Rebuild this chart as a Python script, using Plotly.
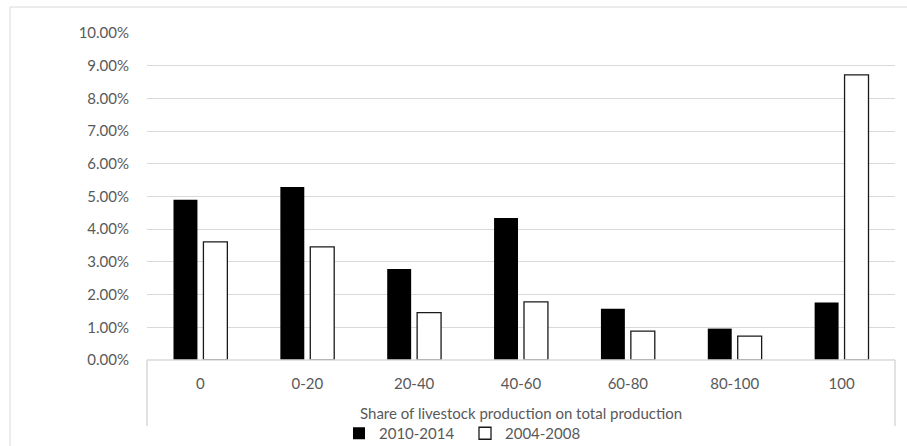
import plotly.graph_objects as go

# Share of livestock production on total production (bins, %)
categories = ["0", "0-20", "20-40", "40-60", "60-80", "80-100", "100"]
share_2010_2014 = [0.0490, 0.0529, 0.0278, 0.0434, 0.0157, 0.0096, 0.0176]
share_2004_2008 = [0.0361, 0.0346, 0.0145, 0.0178, 0.0088, 0.0073, 0.0872]
series_names = ["2010-2014", "2004-2008"]

W, H = 907, 446
ML, MR, MT, MB = 147, 12, 33, 86
FONT = "Lato, Open Sans, sans-serif"
GREY = "#595959"
LINE = "#d9d9d9"

fig = go.Figure()
fig.add_trace(go.Bar(
    x=categories, y=share_2010_2014, name=series_names[0],
    marker=dict(color="#000000", line=dict(color="#000000", width=0)),
))
fig.add_trace(go.Bar(
    x=categories, y=share_2004_2008, name=series_names[1],
    marker=dict(color="#ffffff", line=dict(color="#1a1a1a", width=1.3)),
))

pw = W - ML - MR
ph = H - MT - MB


def px_x(v):
    return (v - ML) / pw


def px_y(v):
    return (H - MB - v) / ph


shapes = [
    # outer chart frame
    dict(type="rect", xref="paper", yref="paper",
         x0=px_x(10), x1=px_x(930), y0=px_y(470), y1=px_y(7),
         line=dict(color=LINE, width=1), fillcolor="rgba(0,0,0,0)", layer="below"),
    # category axis box
    dict(type="line", xref="paper", yref="paper",
         x0=0, x1=1, y0=0, y1=0, line=dict(color=LINE, width=1.5)),
    dict(type="line", xref="paper", yref="paper",
         x0=0, x1=0, y0=0, y1=px_y(426), line=dict(color=LINE, width=1.5)),
    dict(type="line", xref="paper", yref="paper",
         x0=1, x1=1, y0=0, y1=px_y(426), line=dict(color=LINE, width=1.5)),
]

fig.update_layout(
    width=W, height=H,
    margin=dict(l=ML, r=MR, t=MT, b=MB, pad=0, autoexpand=False),
    paper_bgcolor="white", plot_bgcolor="white",
    font=dict(family=FONT, size=15, color=GREY),
    barmode="group", bargap=0.44, bargroupgap=0.2,
    shapes=shapes,
    showlegend=True,
    legend=dict(
        orientation="h", x=px_x(339), xanchor="left",
        y=px_y(417), yanchor="top",
        font=dict(family=FONT, size=15, color=GREY),
        itemwidth=30, entrywidth=81, entrywidthmode="pixels",
        bgcolor="rgba(0,0,0,0)", borderwidth=0,
        tracegroupgap=0, itemclick=False, itemdoubleclick=False,
    ),
    annotations=[dict(
        text="Share of livestock production on total production",
        xref="paper", yref="paper", x=0.5, y=px_y(413),
        xanchor="center", yanchor="middle", showarrow=False,
        font=dict(family=FONT, size=15, color=GREY),
    )],
)
fig.update_xaxes(
    showgrid=False, showline=False, zeroline=False, ticks="",
    tickfont=dict(family=FONT, size=15, color=GREY),
    ticklabelstandoff=13,
)
fig.update_yaxes(
    range=[0, 0.10], dtick=0.01, tick0=0, tickformat=".2%",
    showgrid=True, gridcolor=LINE, gridwidth=1.2,
    zeroline=False, showline=False, ticks="",
    tickfont=dict(family=FONT, size=15, color=GREY),
    ticklabelstandoff=17,
)

fig.write_html("out.html")
